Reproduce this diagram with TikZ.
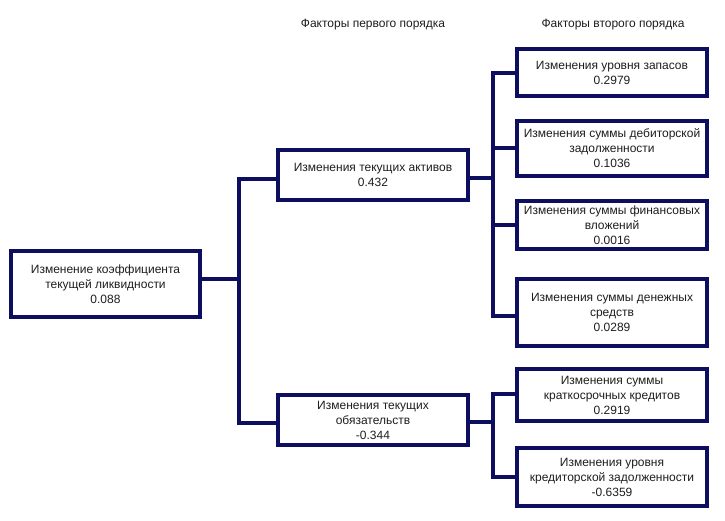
\documentclass[tikz,border=0pt]{standalone}
\usepackage{fontspec}
\setmainfont{Liberation Sans}
\definecolor{navy}{RGB}{14,14,96}
\definecolor{txt}{RGB}{30,30,30}
\begin{document}
\begin{tikzpicture}[x=1pt,y=-1pt,
  box/.style={draw=navy, line width=4pt, fill=white, align=center, text=txt,
    font=\fontsize{12}{15}\selectfont, inner sep=0pt, line join=miter},
  conn/.style={draw=navy, line width=4pt, line join=miter, line cap=rect},
  hdr/.style={text=txt, font=\fontsize{12}{15}\selectfont, inner sep=0pt}]
\useasboundingbox[fill=white] (0,0) rectangle (725,521);
% headers
\node[hdr] (h1) at (373,25) {Факторы первого порядка};
\node[hdr] (h2) at (613,25) {Факторы второго порядка};
% connectors (drawn first)
\coordinate (T0a) at (239,179);
\coordinate (T0b) at (239,423);
\coordinate (T1a) at (493,73);
\coordinate (T1b) at (493,316);
\coordinate (T2a) at (493,394);
\coordinate (T2b) at (493,477);
% boxes
\node[box, minimum width=189pt, minimum height=66pt] (root) at (105.5,284)
  {Изменение коэффициента\\текущей ликвидности\\0.088};
\node[box, minimum width=190pt, minimum height=50pt] (A1) at (373,175)
  {Изменения текущих активов\\0.432};
\node[box, minimum width=190pt, minimum height=50pt] (A2) at (373,420)
  {Изменения текущих\\обязательств\\-0.344};
\node[box, minimum width=190pt, minimum height=47pt] (B1) at (612,72.5)
  {Изменения уровня запасов\\0.2979};
\node[box, minimum width=190pt, minimum height=55pt] (B2) at (612,148.5)
  {Изменения суммы дебиторской\\задолженности\\0.1036};
\node[box, minimum width=190pt, minimum height=48pt] (B3) at (612,225)
  {Изменения суммы финансовых\\вложений\\0.0016};
\node[box, minimum width=190pt, minimum height=67pt] (B4) at (612,312.5)
  {Изменения суммы денежных\\средств\\0.0289};
\node[box, minimum width=190pt, minimum height=52pt] (B5) at (612,395)
  {Изменения суммы\\краткосрочных кредитов\\0.2919};
\node[box, minimum width=190pt, minimum height=58pt] (B6) at (612,477)
  {Изменения уровня\\кредиторской задолженности\\-0.6359};
% connectors
\draw[conn] ([yshift=5pt]root.east) -- ([yshift=5pt]root.east -| T0a);
\draw[conn, line cap=butt] (A1.west |- T0a) -- (T0a) -- (T0b) -- (T0b -| A2.west);
\draw[conn] ([yshift=-3pt]A1.east) -- ([yshift=-3pt]A1.east -| T1a);
\draw[conn, line cap=butt] (B1.west |- T1a) -- (T1a) -- (T1b) -- (T1b -| B4.west);
\draw[conn] (B2.west -| T1a) -- (B2.west);
\draw[conn] (B3.west -| T1a) -- (B3.west);
\draw[conn] ([yshift=-2pt]A2.east) -- ([yshift=-2pt]A2.east -| T2a);
\draw[conn, line cap=butt] (B5.west |- T2a) -- (T2a) -- (T2b) -- (T2b -| B6.west);
\end{tikzpicture}
\end{document}
